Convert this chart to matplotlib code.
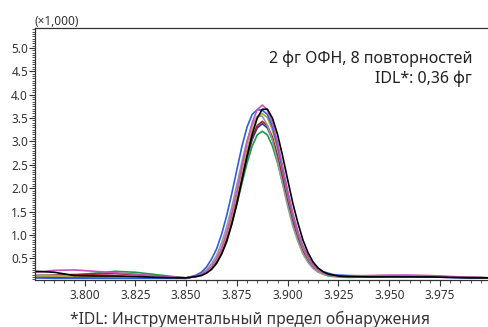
import numpy as np
import matplotlib
matplotlib.use('Agg')
import matplotlib.pyplot as plt
from matplotlib.ticker import MultipleLocator

plt.rcParams['font.family'] = ['Noto Sans', 'DejaVu Sans']

# retention time (min): baseline left, peak region, baseline right
x_left = [3.776, 3.785, 3.795, 3.805, 3.815, 3.825, 3.835, 3.845, 3.850]
x_peak = [3.855, 3.8575, 3.860, 3.8625, 3.865, 3.8675, 3.870, 3.8725, 3.875, 3.8775,
          3.880, 3.8825, 3.885, 3.8875, 3.890, 3.8925, 3.895, 3.8975, 3.900, 3.9025,
          3.905, 3.9075, 3.910, 3.9125, 3.915, 3.9175, 3.920, 3.9225, 3.925]
x_right = [3.930, 3.940, 3.950, 3.960, 3.970, 3.980, 3.990, 3.999]
rt = x_left + x_peak + x_right

# intensity (x1,000) for the 8 replicates
green = [0.10, 0.11, 0.14, 0.18, 0.22, 0.20, 0.15, 0.10, 0.08,
         0.11, 0.14, 0.20, 0.28, 0.42, 0.62, 0.90, 1.25, 1.66, 2.11, 2.54, 2.90, 3.14, 3.22,
         3.14, 2.90, 2.54, 2.11, 1.67, 1.26, 0.93, 0.66, 0.45, 0.31, 0.22, 0.16, 0.12, 0.11, 0.10,
         0.09, 0.10, 0.11, 0.11, 0.11, 0.10, 0.09, 0.08]
navy = [0.09, 0.09, 0.09, 0.10, 0.10, 0.10, 0.09, 0.08, 0.07,
        0.11, 0.15, 0.20, 0.29, 0.44, 0.65, 0.95, 1.31, 1.74, 2.22, 2.66, 3.04, 3.29, 3.38,
        3.29, 3.04, 2.66, 2.22, 1.75, 1.32, 0.98, 0.68, 0.47, 0.32, 0.23, 0.18, 0.14, 0.13, 0.12,
        0.11, 0.12, 0.12, 0.12, 0.11, 0.10, 0.09, 0.08]
darkred = [0.13, 0.14, 0.15, 0.16, 0.17, 0.15, 0.12, 0.09, 0.08,
           0.11, 0.15, 0.20, 0.30, 0.45, 0.66, 0.96, 1.33, 1.77, 2.25, 2.70, 3.09, 3.34, 3.43,
           3.34, 3.09, 2.70, 2.25, 1.78, 1.34, 0.99, 0.69, 0.48, 0.33, 0.23, 0.18, 0.14, 0.13, 0.12,
           0.10, 0.11, 0.12, 0.12, 0.11, 0.10, 0.09, 0.08]
gray = [0.14, 0.13, 0.12, 0.11, 0.10, 0.10, 0.09, 0.08, 0.08,
        0.13, 0.17, 0.25, 0.38, 0.56, 0.83, 1.18, 1.60, 2.08, 2.57, 3.02, 3.35, 3.54, 3.54,
        3.35, 3.02, 2.57, 2.08, 1.61, 1.19, 0.86, 0.59, 0.41, 0.28, 0.20, 0.16, 0.13, 0.12, 0.12,
        0.11, 0.11, 0.11, 0.11, 0.10, 0.09, 0.08, 0.08]
olive = [0.12, 0.12, 0.11, 0.11, 0.11, 0.10, 0.09, 0.08, 0.08,
         0.12, 0.15, 0.21, 0.31, 0.47, 0.69, 1.00, 1.39, 1.85, 2.36, 2.83, 3.24, 3.51, 3.60,
         3.51, 3.24, 2.83, 2.36, 1.86, 1.40, 1.03, 0.72, 0.50, 0.34, 0.24, 0.18, 0.15, 0.13, 0.12,
         0.11, 0.11, 0.12, 0.12, 0.11, 0.10, 0.09, 0.08]
blue = [0.08, 0.07, 0.07, 0.07, 0.07, 0.07, 0.07, 0.07, 0.07,
        0.14, 0.20, 0.31, 0.48, 0.70, 1.02, 1.42, 1.89, 2.40, 2.90, 3.31, 3.58, 3.68, 3.67,
        3.58, 3.31, 2.90, 2.40, 1.90, 1.43, 1.06, 0.76, 0.54, 0.37, 0.27, 0.21, 0.18, 0.15, 0.14,
        0.13, 0.12, 0.12, 0.11, 0.10, 0.09, 0.08, 0.08]
magenta = [0.20, 0.24, 0.25, 0.22, 0.19, 0.16, 0.12, 0.09, 0.08,
           0.12, 0.15, 0.22, 0.32, 0.49, 0.72, 1.05, 1.46, 1.94, 2.47, 2.98, 3.40, 3.68, 3.78,
           3.68, 3.40, 2.98, 2.47, 1.95, 1.47, 1.08, 0.75, 0.52, 0.35, 0.25, 0.18, 0.15, 0.13, 0.12,
           0.12, 0.13, 0.14, 0.14, 0.13, 0.11, 0.09, 0.08]
black = [0.22, 0.20, 0.13, 0.12, 0.12, 0.11, 0.09, 0.08, 0.08,
         0.11, 0.13, 0.18, 0.26, 0.39, 0.59, 0.86, 1.23, 1.67, 2.18, 2.69, 3.15, 3.50, 3.69,
         3.69, 3.50, 3.15, 2.69, 2.18, 1.68, 1.26, 0.89, 0.62, 0.42, 0.29, 0.21, 0.16, 0.14, 0.12,
         0.11, 0.10, 0.10, 0.10, 0.10, 0.09, 0.08, 0.08]

series = [(green, '#1f9a45'), (navy, '#2b3a8f'), (darkred, '#9e1f2e'), (gray, '#9a9a9a'),
          (olive, '#b0a646'), (blue, '#2f5fd6'), (magenta, '#c457b9'), (black, '#000000')]

fig = plt.figure(figsize=(4.88, 3.27), dpi=100)
ax = fig.add_axes([0.0717, 0.1437, 0.9283, 0.7707])

for ys, c in series:
    ax.plot(rt, ys, color=c, lw=1.2)

ax.set_xlim(3.7756, 3.9986)
ax.set_ylim(0.034, 5.43)
ax.xaxis.set_minor_locator(MultipleLocator(0.005))
ax.yaxis.set_minor_locator(MultipleLocator(0.05))
ax.set_xticks([3.800, 3.825, 3.850, 3.875, 3.900, 3.925, 3.950, 3.975])
ax.set_xticklabels(['3.800', '3.825', '3.850', '3.875', '3.900', '3.925', '3.950', '3.975'])
ax.set_yticks([0.5, 1.0, 1.5, 2.0, 2.5, 3.0, 3.5, 4.0, 4.5, 5.0])
ax.set_yticklabels(['0.5', '1.0', '1.5', '2.0', '2.5', '3.0', '3.5', '4.0', '4.5', '5.0'])
ax.tick_params(which='major', length=4, width=0.8, color='#333333', labelsize=8.5,
               labelcolor='#333333')
ax.tick_params(axis='y', which='major', pad=1)
ax.tick_params(axis='x', which='major', pad=2.5)
ax.tick_params(which='minor', length=2, width=0.6, color='#333333')
ax.spines['right'].set_visible(False)
for s in ['left', 'top', 'bottom']:
    ax.spines[s].set_color('#333333')
    ax.spines[s].set_linewidth(0.9)

fig.text(0.0717, 0.925, '(×1,000)', fontsize=8.5, color='#333333', ha='left', va='baseline')
ax.text(0.965, 0.861, '2 фг ОФН, 8 повторностей', transform=ax.transAxes,
        fontsize=11.5, ha='right', va='baseline', color='#222222')
ax.text(0.965, 0.782, 'IDL*: 0,36 фг', transform=ax.transAxes,
        fontsize=11.5, ha='right', va='baseline', color='#222222')
fig.text(0.512, 0.01, '*IDL: Инструментальный предел обнаружения', fontsize=11.3,
         ha='center', va='baseline', color='#333333')

plt.savefig('out.png', dpi=100)
